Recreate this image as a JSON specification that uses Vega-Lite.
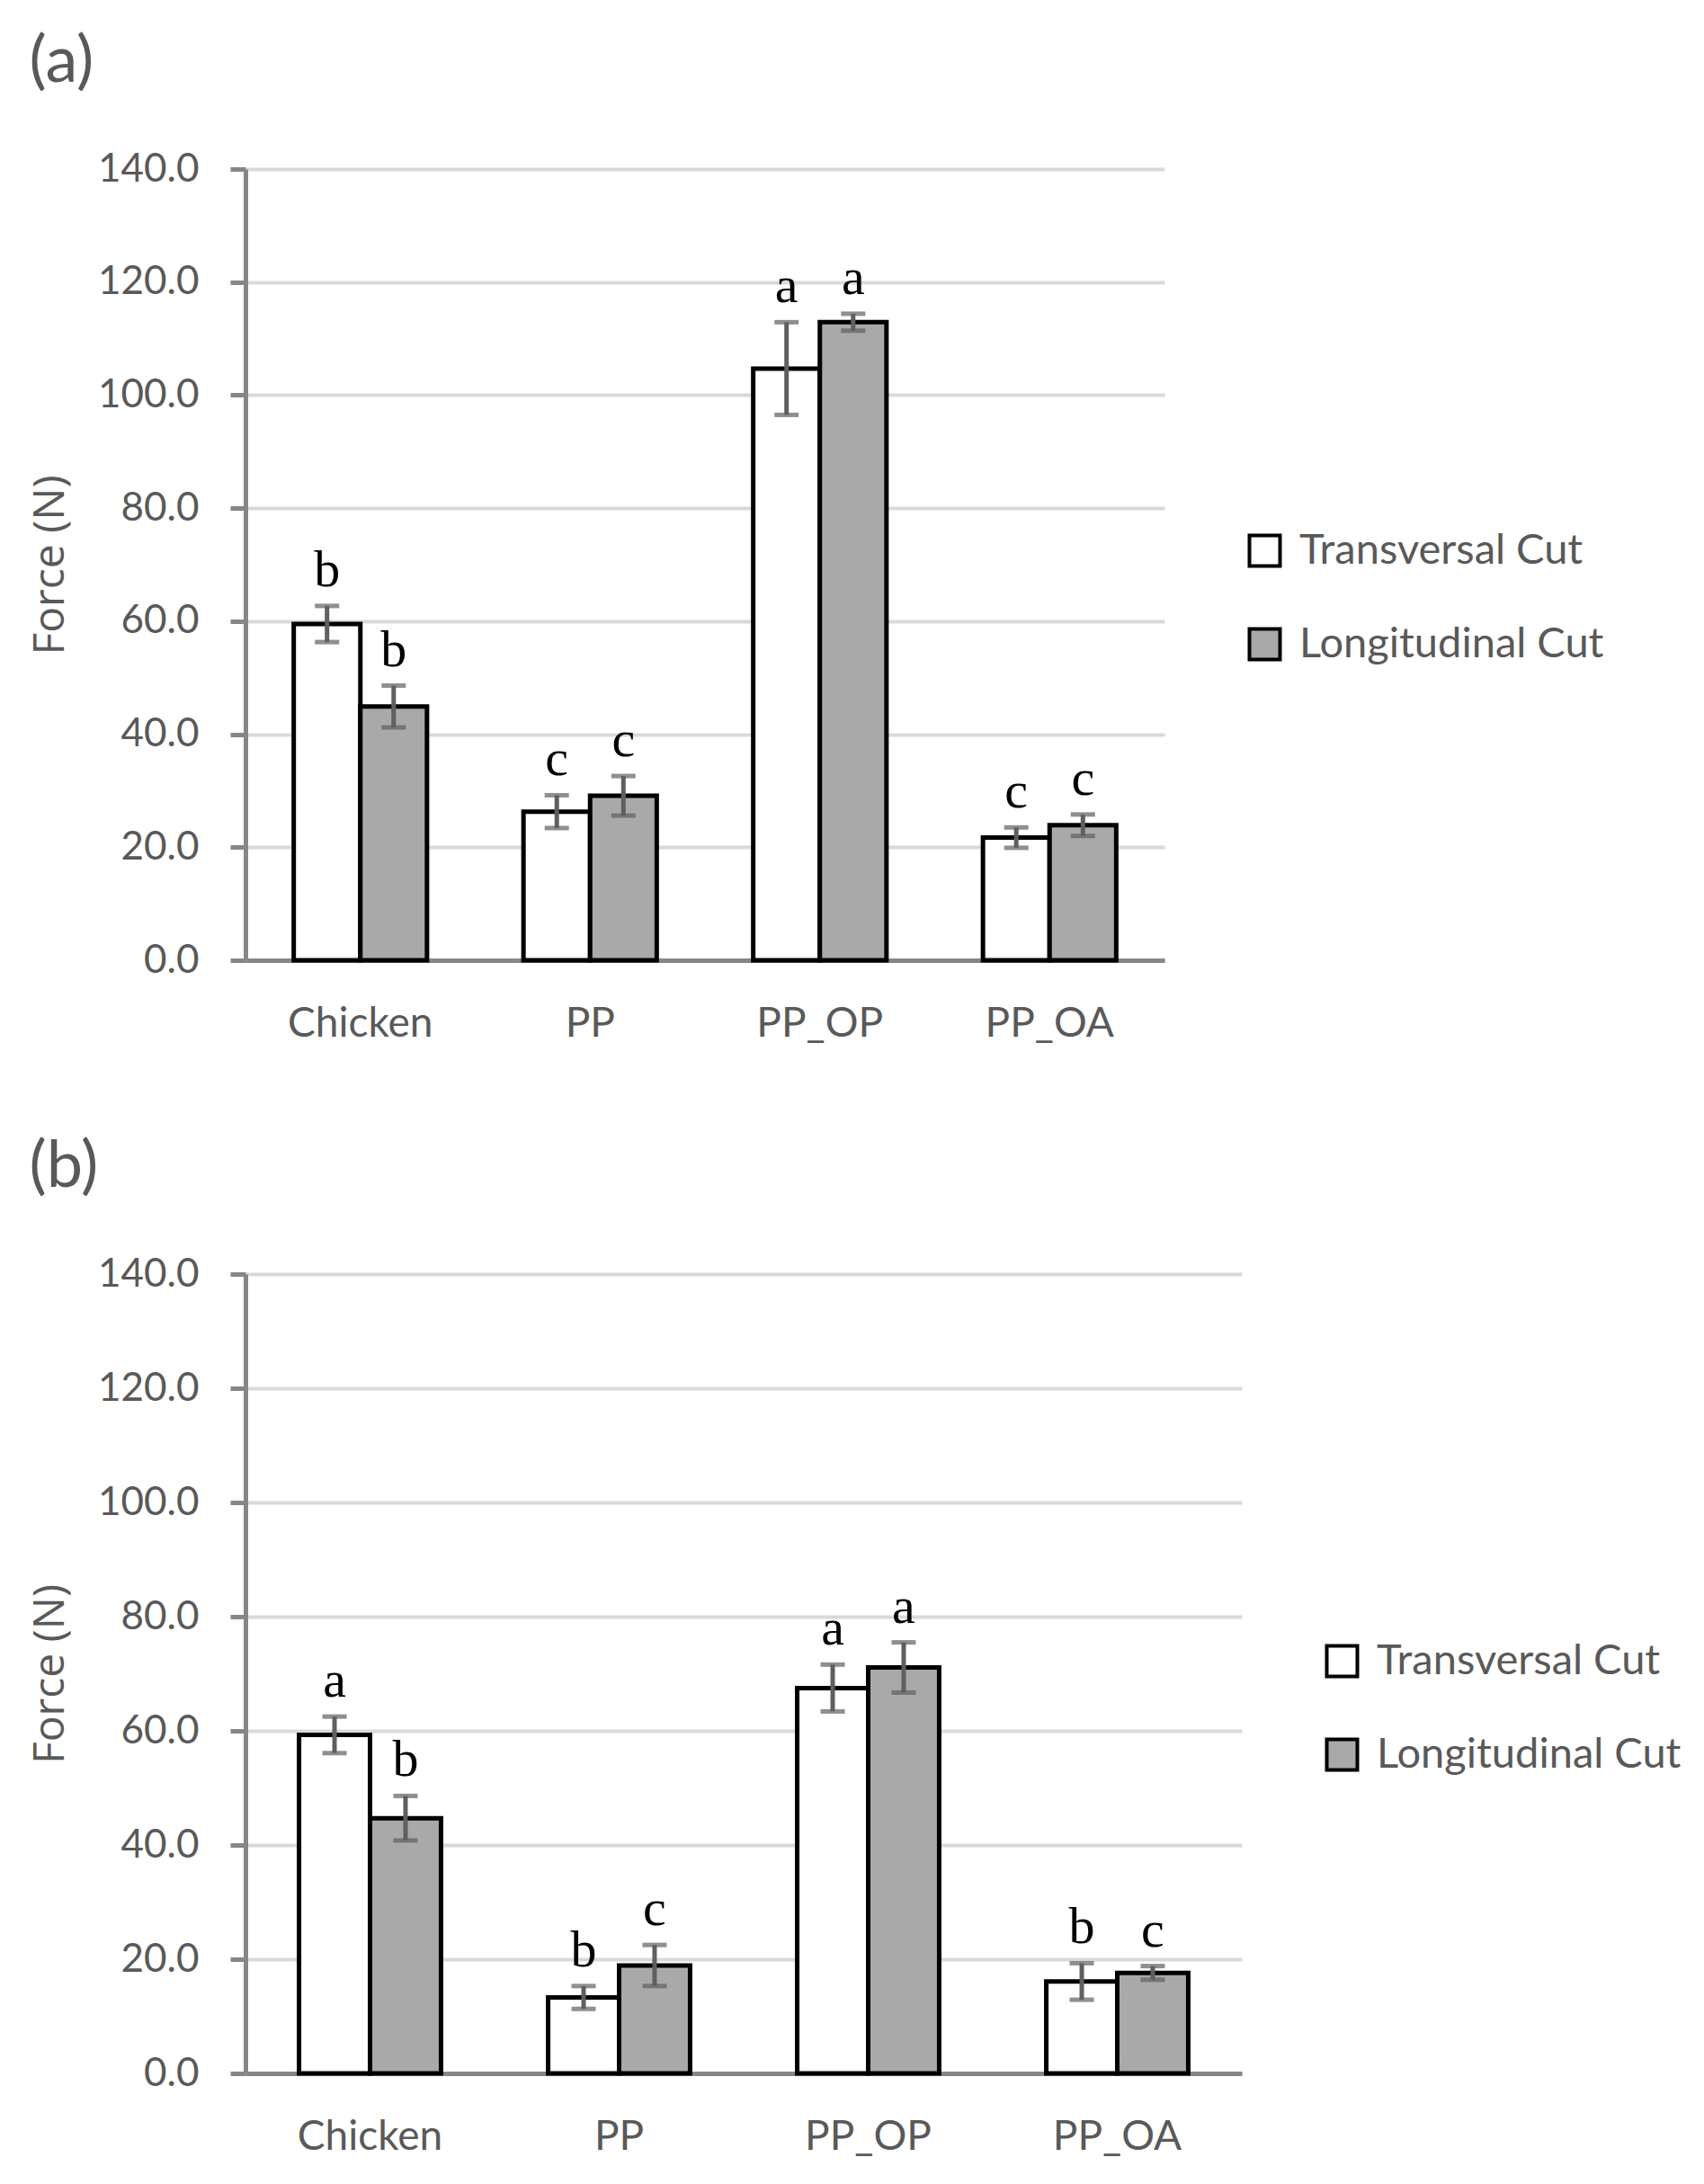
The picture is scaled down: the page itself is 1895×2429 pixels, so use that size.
{
  "$schema": "https://vega.github.io/schema/vega-lite/v6.json",
  "background": "white",
  "padding": {"left": 32, "top": 33, "right": 5, "bottom": 5},
  "spacing": 101,
  "datasets": {
    "force": [
      {"panel": "a", "sample": "Chicken", "cut": "Transversal Cut", "force": 59.5, "sd": 3.2, "letter": "b"},
      {"panel": "a", "sample": "Chicken", "cut": "Longitudinal Cut", "force": 44.9, "sd": 3.7, "letter": "b"},
      {"panel": "a", "sample": "PP", "cut": "Transversal Cut", "force": 26.3, "sd": 2.9, "letter": "c"},
      {"panel": "a", "sample": "PP", "cut": "Longitudinal Cut", "force": 29.1, "sd": 3.5, "letter": "c"},
      {"panel": "a", "sample": "PP_OP", "cut": "Transversal Cut", "force": 104.7, "sd": 8.2, "letter": "a"},
      {"panel": "a", "sample": "PP_OP", "cut": "Longitudinal Cut", "force": 112.9, "sd": 1.5, "letter": "a"},
      {"panel": "a", "sample": "PP_OA", "cut": "Transversal Cut", "force": 21.7, "sd": 1.8, "letter": "c"},
      {"panel": "a", "sample": "PP_OA", "cut": "Longitudinal Cut", "force": 23.9, "sd": 1.9, "letter": "c"},
      {"panel": "b", "sample": "Chicken", "cut": "Transversal Cut", "force": 59.3, "sd": 3.2, "letter": "a"},
      {"panel": "b", "sample": "Chicken", "cut": "Longitudinal Cut", "force": 44.7, "sd": 3.9, "letter": "b"},
      {"panel": "b", "sample": "PP", "cut": "Transversal Cut", "force": 13.3, "sd": 2.0, "letter": "b"},
      {"panel": "b", "sample": "PP", "cut": "Longitudinal Cut", "force": 18.9, "sd": 3.6, "letter": "c"},
      {"panel": "b", "sample": "PP_OP", "cut": "Transversal Cut", "force": 67.5, "sd": 4.1, "letter": "a"},
      {"panel": "b", "sample": "PP_OP", "cut": "Longitudinal Cut", "force": 71.1, "sd": 4.4, "letter": "a"},
      {"panel": "b", "sample": "PP_OA", "cut": "Transversal Cut", "force": 16.1, "sd": 3.2, "letter": "b"},
      {"panel": "b", "sample": "PP_OA", "cut": "Longitudinal Cut", "force": 17.6, "sd": 1.2, "letter": "c"}
    ]
  },
  "vconcat": [
    {
      "title": {"text": "(a)"},
      "width": 1022,
      "height": 880,
      "data": {"name": "force"},
      "transform": [
        {"filter": "datum.panel == 'a'"},
        {"calculate": "datum.force - datum.sd", "as": "lo"},
        {"calculate": "datum.force + datum.sd", "as": "hi"}
      ],
      "encoding": {
        "x": {
          "field": "sample",
          "type": "nominal",
          "sort": ["Chicken", "PP", "PP_OP", "PP_OA"],
          "title": null,
          "scale": {"paddingInner": 0.42, "paddingOuter": 0.21}
        },
        "xOffset": {
          "field": "cut",
          "type": "nominal",
          "sort": ["Transversal Cut", "Longitudinal Cut"],
          "scale": {"paddingInner": 0, "paddingOuter": 0}
        }
      },
      "layer": [
        {
          "mark": {"type": "bar", "stroke": "black", "strokeWidth": 5},
          "encoding": {
            "y": {
              "field": "force",
              "type": "quantitative",
              "title": "Force (N)",
              "scale": {"domain": [0, 140]},
              "axis": {"values": [0, 20, 40, 60, 80, 100, 120, 140]}
            },
            "fill": {
              "field": "cut",
              "type": "nominal",
              "sort": ["Transversal Cut", "Longitudinal Cut"],
              "scale": {"domain": ["Transversal Cut", "Longitudinal Cut"], "range": ["#ffffff", "#a9a9a9"]},
              "legend": {"orient": "none", "legendX": 1110, "legendY": 401}
            }
          }
        },
        {
          "mark": {"type": "rule", "color": "#5f5f5f", "strokeWidth": 5},
          "encoding": {
            "y": {"field": "lo", "type": "quantitative"},
            "y2": {"field": "hi"}
          }
        },
        {
          "mark": {"type": "tick", "color": "#5f5f5f", "size": 27, "thickness": 5},
          "encoding": {"y": {"field": "lo", "type": "quantitative"}}
        },
        {
          "mark": {"type": "tick", "color": "#5f5f5f", "size": 27, "thickness": 5},
          "encoding": {"y": {"field": "hi", "type": "quantitative"}}
        },
        {
          "mark": {"type": "text", "font": "Liberation Serif", "fontSize": 58, "color": "black", "baseline": "alphabetic", "dy": -22},
          "encoding": {
            "y": {"field": "hi", "type": "quantitative"},
            "text": {"field": "letter"}
          }
        }
      ]
    },
    {
      "title": {"text": "(b)"},
      "width": 1108,
      "height": 889,
      "data": {"name": "force"},
      "transform": [
        {"filter": "datum.panel == 'b'"},
        {"calculate": "datum.force - datum.sd", "as": "lo"},
        {"calculate": "datum.force + datum.sd", "as": "hi"}
      ],
      "encoding": {
        "x": {
          "field": "sample",
          "type": "nominal",
          "sort": ["Chicken", "PP", "PP_OP", "PP_OA"],
          "title": null,
          "scale": {"paddingInner": 0.43, "paddingOuter": 0.215}
        },
        "xOffset": {
          "field": "cut",
          "type": "nominal",
          "sort": ["Transversal Cut", "Longitudinal Cut"],
          "scale": {"paddingInner": 0, "paddingOuter": 0}
        }
      },
      "layer": [
        {
          "mark": {"type": "bar", "stroke": "black", "strokeWidth": 5},
          "encoding": {
            "y": {
              "field": "force",
              "type": "quantitative",
              "title": "Force (N)",
              "scale": {"domain": [0, 140]},
              "axis": {"values": [0, 20, 40, 60, 80, 100, 120, 140]}
            },
            "fill": {
              "field": "cut",
              "type": "nominal",
              "sort": ["Transversal Cut", "Longitudinal Cut"],
              "scale": {"domain": ["Transversal Cut", "Longitudinal Cut"], "range": ["#ffffff", "#a9a9a9"]},
              "legend": {"orient": "none", "legendX": 1196, "legendY": 407}
            }
          }
        },
        {
          "mark": {"type": "rule", "color": "#5f5f5f", "strokeWidth": 5},
          "encoding": {
            "y": {"field": "lo", "type": "quantitative"},
            "y2": {"field": "hi"}
          }
        },
        {
          "mark": {"type": "tick", "color": "#5f5f5f", "size": 27, "thickness": 5},
          "encoding": {"y": {"field": "lo", "type": "quantitative"}}
        },
        {
          "mark": {"type": "tick", "color": "#5f5f5f", "size": 27, "thickness": 5},
          "encoding": {"y": {"field": "hi", "type": "quantitative"}}
        },
        {
          "mark": {"type": "text", "font": "Liberation Serif", "fontSize": 58, "color": "black", "baseline": "alphabetic", "dy": -22},
          "encoding": {
            "y": {"field": "hi", "type": "quantitative"},
            "text": {"field": "letter"}
          }
        }
      ]
    }
  ],
  "resolve": {
    "scale": {"x": "independent", "y": "independent", "xOffset": "independent", "fill": "independent"},
    "legend": {"fill": "independent"}
  },
  "config": {
    "view": {"stroke": null},
    "title": {
      "font": "Lato",
      "fontSize": 72,
      "fontWeight": "normal",
      "color": "#595959",
      "anchor": "start",
      "frame": "bounds",
      "offset": 60
    },
    "axisY": {
      "format": ".1f",
      "grid": true,
      "gridColor": "#d9d9d9",
      "gridWidth": 4,
      "domainColor": "#868686",
      "domainWidth": 5,
      "tickColor": "#868686",
      "tickSize": 17,
      "tickWidth": 5,
      "labelFont": "Lato",
      "labelFontSize": 44,
      "labelColor": "#595959",
      "labelPadding": 35,
      "titleFont": "Open Sans",
      "titleFontSize": 48,
      "titleFontWeight": "normal",
      "titleColor": "#595959",
      "titlePadding": 28
    },
    "axisX": {
      "ticks": false,
      "grid": false,
      "labelAngle": 0,
      "domainColor": "#868686",
      "domainWidth": 5,
      "labelFont": "Lato",
      "labelFontSize": 46,
      "labelColor": "#595959",
      "labelPadding": 48
    },
    "legend": {
      "title": null,
      "symbolType": "square",
      "symbolSize": 1156,
      "symbolStrokeColor": "black",
      "symbolStrokeWidth": 4,
      "labelFont": "Lato",
      "labelFontSize": 47,
      "labelColor": "#595959",
      "labelOffset": 15,
      "labelLimit": 0,
      "rowPadding": 53,
      "padding": 0
    }
  }
}
